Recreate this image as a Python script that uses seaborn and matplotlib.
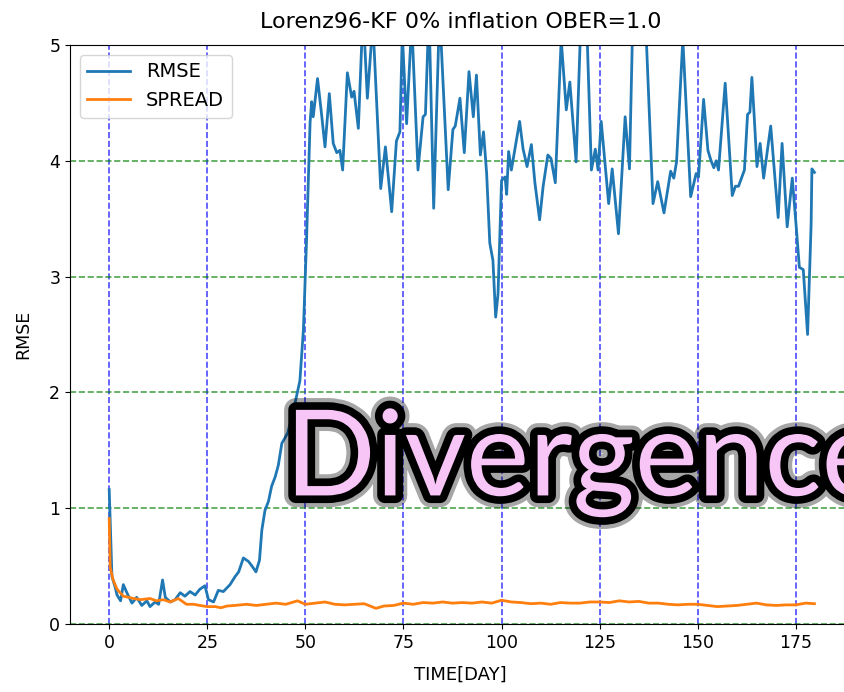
import matplotlib
matplotlib.use("Agg")
from matplotlib import pyplot as plt
import matplotlib.patheffects as pe
import pandas as pd
import seaborn as sns

# RMSE (day, value); values > 5 are clipped peaks
rmse_day = [0, 0.3, 0.7, 1.5, 2.0, 2.9, 3.6, 4.5, 5.8, 7.0, 8.3, 9.6, 10.4, 11.7, 12.6,
            13.6, 14.3, 15.6, 16.8, 18.1, 19.3, 20.6, 21.9, 23.1, 24.4, 25.3, 26.6, 27.8,
            29.1, 30.8, 32.1, 33.0, 34.2, 35.5, 36.4, 37.4, 38.3, 38.9, 39.7, 40.6, 41.4,
            42.3, 43.1, 44.0, 45.5, 47.0, 48.6, 49.5, 50.3, 51.2, 51.6, 52.0, 53.1, 54.1,
            55.0, 56.1, 57.1, 58.0, 58.8, 59.5, 60.7, 61.8, 62.4, 63.5, 64.7, 65.8, 67.2,
            69.2, 70.4, 72.0, 73.2, 74.1, 74.7, 75.8, 77.1, 78.7, 80.0, 80.6, 81.5, 82.7,
            84.2, 86.4, 87.6, 88.2, 89.4, 90.5, 91.7, 92.8, 93.6, 94.6, 95.4, 96.2, 97.0,
            97.8, 98.5, 99.1, 100.0, 100.9, 101.3, 101.8, 102.5, 104.6, 105.5, 106.5,
            107.6, 108.5, 109.7, 110.6, 111.8, 112.6, 113.7, 115.2, 116.5, 117.4, 119.0,
            120.3, 121.6, 122.9, 123.9, 124.6, 125.4, 127.3, 128.2, 129.8, 131.5, 132.6,
            133.5, 136.9, 138.6, 139.8, 141.4, 143.1, 143.9, 144.6, 146.2, 148.2, 149.6,
            150.2, 151.5, 152.6, 153.4, 154.1, 154.7, 155.3, 157.0, 158.8, 159.6, 160.4,
            161.9, 162.7, 163.3, 163.8, 164.4, 165.1, 165.9, 166.8, 168.6, 170.5, 171.5,
            172.8, 174.1, 175.2, 175.9, 176.9, 178.0, 178.9, 179.1, 179.75]
rmse_val = [1.16, 0.85, 0.41, 0.32, 0.25, 0.20, 0.34, 0.27, 0.18, 0.23, 0.16, 0.20, 0.15,
            0.19, 0.17, 0.38, 0.23, 0.19, 0.21, 0.27, 0.24, 0.28, 0.25, 0.30, 0.33, 0.21,
            0.19, 0.29, 0.28, 0.34, 0.41, 0.45, 0.57, 0.54, 0.50, 0.45, 0.55, 0.81, 0.98,
            1.06, 1.19, 1.27, 1.37, 1.56, 1.65, 1.85, 2.10, 2.54, 3.32, 4.33, 4.51, 4.38,
            4.71, 4.41, 4.12, 4.58, 4.15, 4.07, 4.09, 3.92, 4.76, 4.55, 4.60, 4.28, 5.30,
            4.54, 5.20, 3.76, 4.12, 3.56, 4.17, 4.25, 5.10, 4.32, 5.20, 3.92, 4.38, 4.40,
            5.30, 3.59, 5.30, 3.75, 4.27, 4.30, 4.54, 4.07, 4.77, 4.38, 4.74, 4.05, 4.25,
            3.89, 3.29, 3.14, 2.65, 2.85, 3.83, 3.86, 3.71, 4.08, 3.92, 4.34, 4.10, 3.95,
            4.14, 3.81, 3.49, 3.78, 4.05, 4.02, 3.81, 5.05, 4.44, 4.68, 3.99, 5.30, 5.30,
            3.92, 4.10, 3.92, 4.34, 3.63, 3.93, 3.37, 4.38, 3.93, 5.30, 5.05, 3.63, 3.82,
            3.55, 3.91, 3.85, 3.99, 5.05, 3.69, 3.89, 3.86, 4.53, 4.09, 4.00, 3.94, 4.00,
            3.92, 4.67, 3.70, 3.78, 3.78, 3.92, 4.40, 4.42, 4.72, 4.38, 3.95, 4.15, 3.85,
            4.30, 3.51, 4.15, 3.43, 3.85, 3.39, 3.08, 3.06, 2.50, 3.45, 3.93, 3.90]

spread_day = [0, 0.25, 1.0, 2.0, 3.6, 5.0, 6.2, 8.0, 10.4, 12.0, 13.8, 15.5, 17.6, 19.7,
              21.5, 23.1, 25, 27, 28.5, 30, 32, 35, 37.5, 40, 42.5, 45, 48, 50, 52.5, 55,
              57.5, 60, 62.5, 65, 68, 70, 72.5, 75, 77.5, 80, 82.5, 85, 87.5, 90, 92.5, 95,
              97.5, 100, 102.5, 105, 107.5, 110, 112.5, 115, 117.5, 120, 122.5, 125, 127.5,
              130, 132.5, 135, 137.5, 140, 142.5, 145, 147.5, 150, 152.5, 155, 157.5, 160,
              162.5, 165, 167.5, 170, 172.5, 175, 177.5, 179.75]
spread_val = [0.91, 0.49, 0.38, 0.30, 0.24, 0.23, 0.22, 0.21, 0.22, 0.20, 0.21, 0.19, 0.22,
              0.17, 0.17, 0.16, 0.15, 0.15, 0.14, 0.155, 0.16, 0.17, 0.16, 0.17, 0.18, 0.17,
              0.20, 0.17, 0.18, 0.19, 0.17, 0.165, 0.17, 0.175, 0.135, 0.155, 0.16, 0.18,
              0.17, 0.185, 0.18, 0.19, 0.18, 0.185, 0.18, 0.19, 0.18, 0.205, 0.19, 0.185,
              0.175, 0.18, 0.17, 0.185, 0.18, 0.18, 0.19, 0.19, 0.185, 0.20, 0.19, 0.195,
              0.18, 0.18, 0.17, 0.165, 0.17, 0.17, 0.16, 0.15, 0.155, 0.16, 0.17, 0.18,
              0.165, 0.16, 0.165, 0.165, 0.18, 0.175]

rmse = pd.DataFrame({"day": rmse_day, "value": rmse_val})
spread = pd.DataFrame({"day": spread_day, "value": spread_val})

fig = plt.figure(figsize=(8.45, 6.92), dpi=100)
ax = fig.add_axes([0.0828, 0.0983, 0.924, 0.8367])

sns.lineplot(data=rmse, x="day", y="value", ax=ax, color="#1f77b4", lw=2, label="RMSE")
sns.lineplot(data=spread, x="day", y="value", ax=ax, color="#ff7f0e", lw=2, label="SPREAD")

ax.set_xlim(-10, 189)
ax.set_ylim(0, 5)
ax.set_xticks(range(0, 176, 25))
ax.set_yticks(range(0, 6))
ax.tick_params(labelsize=12.5)

ax.xaxis.grid(True, color="blue", linestyle="--", alpha=0.7, lw=1.2)
ax.yaxis.grid(True, color="green", linestyle="--", alpha=0.7, lw=1.2)

ax.set_title("Lorenz96-KF 0% inflation OBER=1.0", fontsize=16, pad=12)
ax.set_xlabel("TIME[DAY]", fontsize=13, labelpad=10)
ax.set_ylabel("RMSE", fontsize=12.5, labelpad=12)
ax.legend(loc="upper left", fontsize=14, handlelength=2.2)

ax.text(44.8, 1.11, "Divergence", fontsize=86, family="Lato", color="#f7c6f7",
        ha="left", va="baseline", zorder=10,
        path_effects=[pe.Stroke(linewidth=17, foreground="black", alpha=0.35),
                      pe.Stroke(linewidth=11, foreground="black"),
                      pe.Normal()])

plt.savefig("out.png", dpi=100)
